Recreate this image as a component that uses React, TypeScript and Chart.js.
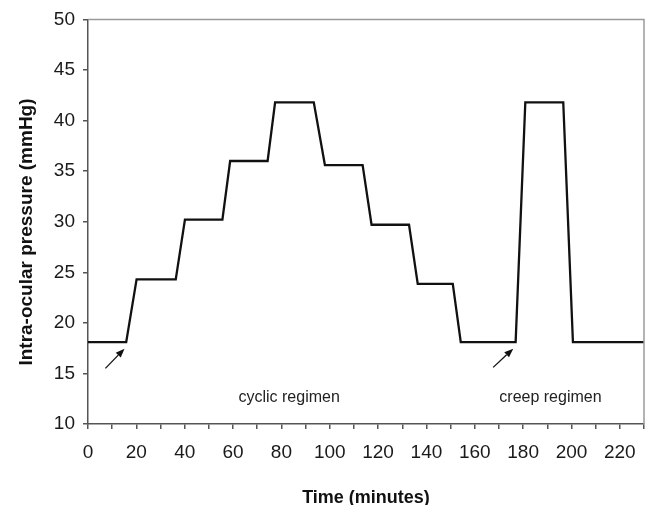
import React, { useEffect, useRef } from "react";
import { Chart, registerables } from "chart.js";

Chart.register(...registerables);

// Time (minutes) and intra-ocular pressure (mmHg) of the loading profile
const timeMinutes = [0, 15.8, 20.1, 36.3, 40.1, 55.6, 58.8, 74.3, 77.4, 93.4, 98.0, 113.6, 117.3, 132.8, 136.4, 150.9, 154.2, 176.9, 180.9, 196.6, 200.6, 230];
const pressure = [18.1, 18.1, 24.3, 24.3, 30.2, 30.2, 36.0, 36.0, 41.8, 41.8, 35.6, 35.6, 29.7, 29.7, 23.85, 23.85, 18.1, 18.1, 41.8, 41.8, 18.1, 18.1];

// Arrows: tail (x, y) -> head (x, y)
const arrowTailX = [7.2, 167.6];
const arrowTailY = [15.5, 15.6];
const arrowHeadX = [15.1, 175.9];
const arrowHeadY = [17.45, 17.45];

// Annotation labels
const labelTexts = ["cyclic regimen", "creep regimen"];
const labelX = [83.2, 191.3];
const labelY = [12.6, 12.6];

const yTitle = "Intra-ocular pressure (mmHg)";
const xTitle = "Time (minutes)";

const FONT = "'Liberation Sans', Arial, sans-serif";

export default function App() {
  const ref = useRef<HTMLCanvasElement | null>(null);

  useEffect(() => {
    document.body.style.margin = "0";
    const canvas = ref.current;
    if (!canvas) return;

    const overlay = {
      id: "overlay",
      afterDraw(chart: any) {
        const ctx = chart.ctx;
        const xs = chart.scales.x;
        const ys = chart.scales.y;
        const ca = chart.chartArea;
        ctx.save();
        // frame top/right
        ctx.strokeStyle = "#9a9a9a";
        ctx.lineWidth = 1.5;
        ctx.beginPath();
        ctx.moveTo(ca.left, ca.top);
        ctx.lineTo(ca.right, ca.top);
        ctx.lineTo(ca.right, ca.bottom);
        ctx.stroke();

        // arrows
        ctx.strokeStyle = "#111";
        ctx.fillStyle = "#111";
        ctx.lineWidth = 1.3;
        for (let i = 0; i < arrowTailX.length; i++) {
          const x1 = xs.getPixelForValue(arrowTailX[i]);
          const y1 = ys.getPixelForValue(arrowTailY[i]);
          const x2 = xs.getPixelForValue(arrowHeadX[i]);
          const y2 = ys.getPixelForValue(arrowHeadY[i]);
          const ang = Math.atan2(y2 - y1, x2 - x1);
          const hl = 9;
          const hw = 3.5;
          const bx = x2 - hl * Math.cos(ang);
          const by = y2 - hl * Math.sin(ang);
          ctx.beginPath();
          ctx.moveTo(x1, y1);
          ctx.lineTo(bx, by);
          ctx.stroke();
          ctx.beginPath();
          ctx.moveTo(x2, y2);
          ctx.lineTo(bx + hw * Math.sin(ang), by - hw * Math.cos(ang));
          ctx.lineTo(bx - hw * Math.sin(ang), by + hw * Math.cos(ang));
          ctx.closePath();
          ctx.fill();
        }

        // labels
        ctx.fillStyle = "#222";
        ctx.font = `16px ${FONT}`;
        ctx.textAlign = "center";
        ctx.textBaseline = "middle";
        for (let i = 0; i < labelTexts.length; i++) {
          ctx.fillText(labelTexts[i], xs.getPixelForValue(labelX[i]), ys.getPixelForValue(labelY[i]));
        }

        // y title
        ctx.fillStyle = "#111";
        ctx.font = `bold 19px ${FONT}`;
        ctx.translate(27, 232);
        ctx.rotate(-Math.PI / 2);
        ctx.textAlign = "center";
        ctx.textBaseline = "middle";
        ctx.fillText(yTitle, 0, 0);
        ctx.restore();
      },
    };

    const chart = new Chart(canvas, {
      type: "scatter",
      data: {
        datasets: [
          {
            data: timeMinutes.map((t, i) => ({ x: t, y: pressure[i] })),
            showLine: true,
            borderColor: "#111",
            borderWidth: 2.3,
            pointRadius: 0,
            tension: 0,
          },
        ],
      },
      options: {
        responsive: false,
        animation: false,
        layout: { padding: { top: 19, right: 1, left: 0, bottom: 0 } },
        plugins: { legend: { display: false }, tooltip: { enabled: false } },
        scales: {
          x: {
            type: "linear",
            min: 0,
            max: 230,
            afterFit: (s: any) => {
              s.height = 81;
              s.paddingRight = 0;
              s.paddingLeft = 0;
            },
            border: { display: true, color: "#555", width: 1.5 },
            grid: { drawOnChartArea: false, drawTicks: true, tickLength: 5, color: "#555", lineWidth: 1.5 },
            ticks: {
              stepSize: 10,
              autoSkip: false,
              maxRotation: 0,
              padding: 12,
              color: "#1a1a1a",
              font: { family: FONT, size: 19 },
              callback: (v: any) => (v % 20 === 0 && v < 230 ? String(v) : ""),
            },
            title: {
              display: true,
              text: xTitle,
              color: "#111",
              font: { family: FONT, size: 18, weight: "bold", lineHeight: 1 },
              padding: { top: 0, bottom: -2 },
            },
          },
          y: {
            min: 10,
            max: 50,
            afterFit: (s: any) => {
              s.width = 88;
            },
            border: { display: true, color: "#555", width: 1.5 },
            grid: { drawOnChartArea: false, drawTicks: true, tickLength: 5, color: "#555", lineWidth: 1.5 },
            ticks: {
              stepSize: 5,
              padding: 8,
              color: "#1a1a1a",
              font: { family: FONT, size: 19 },
            },
          },
        },
      },
      plugins: [overlay],
    });
    return () => chart.destroy();
  }, []);

  return (
    <div style={{ width: 645, height: 505, background: "#fff" }}>
      <canvas ref={ref} width={645} height={505} />
    </div>
  );
}
